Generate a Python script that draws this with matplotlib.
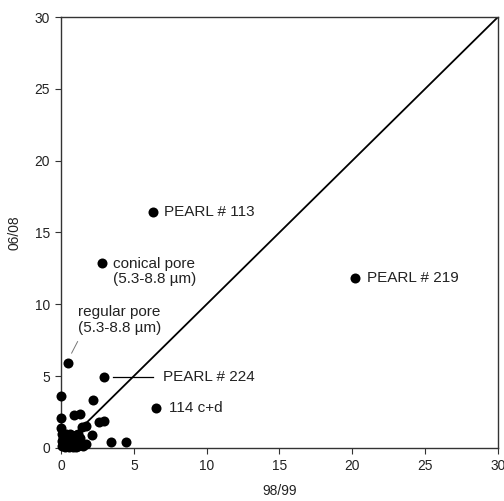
import matplotlib
matplotlib.use("Agg")
import matplotlib.pyplot as plt

plt.rcParams['font.family'] = ['Liberation Sans', 'DejaVu Sans']

# labelled samples: (98/99, 06/08)
named_x = [6.3, 2.8, 20.2, 0.45, 2.97, 6.5]
named_y = [16.4, 12.9, 11.8, 5.9, 4.95, 2.8]

# remaining samples
other_x = [0.02, 2.2, 0.9, 1.3, 0.02, 1.45, 1.7, 2.1, 2.6, 2.95, 3.45, 4.45, 1.75,
           0.02, 0.05,
           0.1, 0.2, 0.3, 0.4, 0.5, 0.6, 0.7, 0.8, 0.9, 1.0, 1.1, 1.2, 1.3, 1.4,
           0.15, 0.25, 0.55, 0.85, 1.05, 0.35, 0.65, 0.05, 1.5, 0.75, 1.15]
other_y = [3.6, 3.35, 2.3, 2.35, 2.1, 1.45, 1.55, 0.9, 1.8, 1.9, 0.42, 0.38, 0.28,
           1.4, 1.0,
           0.1, 0.3, 0.6, 0.2, 0.8, 0.4, 0.1, 0.6, 0.3, 0.9, 0.5, 0.15, 0.7, 0.3,
           0.7, 0.05, 0.05, 0.05, 0.05, 1.0, 0.95, 0.5, 0.1, 0.75, 1.0]

txt = '#222222'
fig = plt.figure(figsize=(5.04, 5.01), dpi=100)
ax = fig.add_axes([0.121, 0.106, 0.867, 0.86])

# 1:1 line
ax.plot([0, 30], [0, 30], color='black', lw=1.3, zorder=1)

ax.scatter(other_x, other_y, s=52, color='black', zorder=3, linewidths=0, clip_on=False)
ax.scatter(named_x, named_y, s=52, color='black', zorder=3, linewidths=0, clip_on=False)

fs = 9.9
afs = 11
ax.text(7.1, 16.4, 'PEARL # 113', fontsize=afs, color=txt, va='center')
ax.text(3.55, 12.3, 'conical pore\n(5.3-8.8 µm)', fontsize=afs, color=txt,
        va='center', linespacing=1.12)
ax.text(21.0, 11.8, 'PEARL # 219', fontsize=afs, color=txt, va='center')
ax.text(1.15, 8.9, 'regular pore\n(5.3-8.8 µm)', fontsize=afs, color=txt,
        va='center', linespacing=1.12)
ax.plot([0.73, 1.14], [6.6, 7.4], color='#777777', lw=0.7)
ax.plot([3.6, 6.3], [4.95, 4.95], color='black', lw=0.9)
ax.text(7.0, 4.95, 'PEARL # 224', fontsize=afs, color=txt, va='center')
ax.text(7.45, 2.8, '114 c+d', fontsize=afs, color=txt, va='center')

ax.set_xlim(0, 30)
ax.set_ylim(0, 30)
ax.set_xticks(range(0, 31, 5))
ax.set_yticks(range(0, 31, 5))
ax.tick_params(direction='out', length=4, width=0.8, labelsize=fs,
               labelcolor=txt, color='#333333', pad=4)
for s in ax.spines.values():
    s.set_linewidth(1.0)
    s.set_color('#333333')

ax.set_xlabel('98/99', fontsize=fs, color=txt, labelpad=8)
ax.set_ylabel('06/08', fontsize=fs, color=txt, labelpad=9)

fig.savefig('out.png', dpi=100)
